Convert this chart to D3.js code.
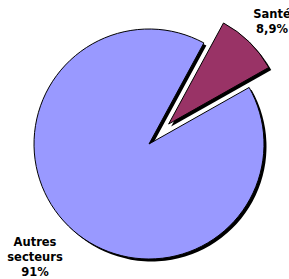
<!DOCTYPE html>
<html>
<head>
<meta charset="utf-8">
<script src="https://cdn.jsdelivr.net/npm/d3@7"></script>
<style>
  body { margin: 0; background: #fff; }
  svg { display: block; }
  text { font-family: "DejaVu Sans", Verdana, sans-serif; font-weight: bold; font-size: 11.5px; fill: #000; }
</style>
</head>
<body>
<svg width="289" height="279"></svg>
<script>
var labels = ["Santé", "Autres secteurs"];
var values = [8.9, 91.1];
var valueText = ["8,9%", "91%"];
var colors = ["#993366", "#9999ff"];

var svg = d3.select("svg");

var cx = 149, cy = 144, radius = 115;
var startDeg = 28.5;
var explode = 28;

var pie = d3.pie()
    .sort(null)
    .value(function (d) { return d; })
    .startAngle(startDeg * Math.PI / 180)
    .endAngle((startDeg + 360) * Math.PI / 180);

var arcs = pie(values);
var arc = d3.arc().innerRadius(0).outerRadius(radius);

function offset(d, i) {
    if (i !== 0) return [0, 0];
    var mid = (d.startAngle + d.endAngle) / 2;
    return [Math.sin(mid) * explode, -Math.cos(mid) * explode];
}

var g = svg.append("g").attr("transform", "translate(" + cx + "," + cy + ")");

// shadows
g.selectAll("path.shadow")
    .data(arcs)
    .enter().append("path")
    .attr("class", "shadow")
    .attr("d", arc)
    .attr("fill", "#000")
    .attr("transform", function (d, i) {
        var o = offset(d, i);
        return "translate(" + (o[0] + 2.5) + "," + (o[1] + 2.5) + ")";
    });

g.selectAll("path.slice")
    .data(arcs)
    .enter().append("path")
    .attr("class", "slice")
    .attr("d", arc)
    .attr("fill", function (d, i) { return colors[i]; })
    .attr("stroke", "#000")
    .attr("stroke-width", 1)
    .attr("stroke-linejoin", "miter")
    .attr("transform", function (d, i) {
        var o = offset(d, i);
        return "translate(" + o[0] + "," + o[1] + ")";
    });

// labels
var santeLabel = svg.append("text").attr("text-anchor", "middle");
santeLabel.append("tspan").attr("x", 272).attr("y", 18).text(labels[0]);
santeLabel.append("tspan").attr("x", 272).attr("y", 33).text(valueText[0]);

var autresLabel = svg.append("text").attr("text-anchor", "middle");
var autresLines = labels[1].split(" ").concat([valueText[1]]);
autresLines.forEach(function (t, i) {
    autresLabel.append("tspan").attr("x", 35).attr("y", 246 + i * 15).text(t);
});
</script>
</body>
</html>
